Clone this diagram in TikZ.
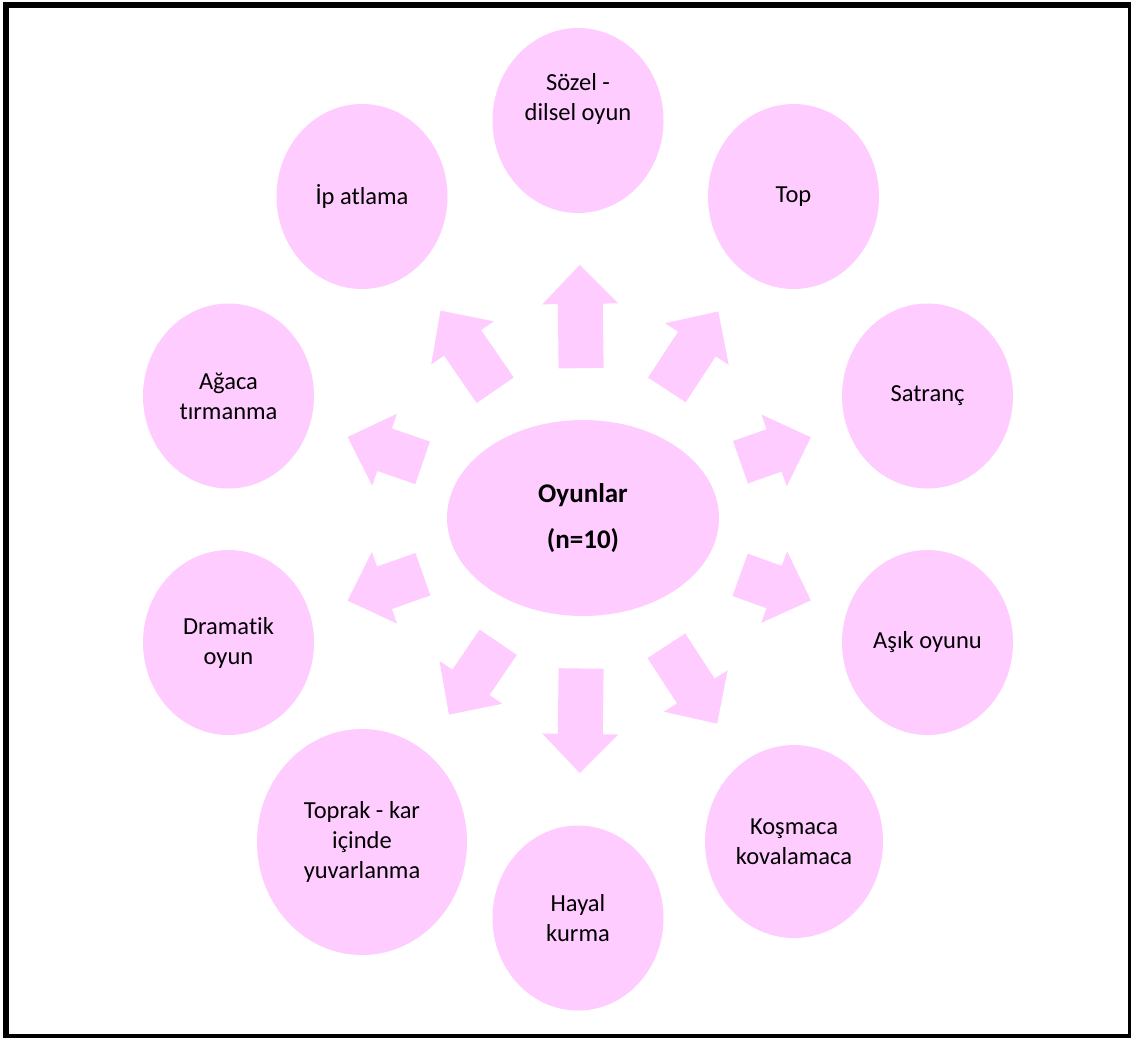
\documentclass[tikz,border=0pt]{standalone}
\usepackage{fontspec}
\setmainfont{Carlito}[Ligatures=NoCommon]
\usetikzlibrary{shapes.geometric,calc}
\definecolor{petal}{RGB}{255,204,255}

% block arrow from the hub towards a satellite: it covers the middle half
% of the gap between the two ellipse borders
\newcommand\radialarrow[1]{%
  \path (hub) -- coordinate[pos=0.25] (#1-a) coordinate[pos=0.75] (#1-b) (#1);
  \coordinate (#1-h) at ($(#1-b)!39pt!(#1-a)$);
  \fill[blockarrow]
    ($(#1-a)!22.5pt!90:(#1-b)$) -- ($(#1-h)!22.5pt!90:(#1-b)$) --
    ($(#1-h)!38pt!90:(#1-b)$) -- (#1-b) -- ($(#1-h)!38pt!-90:(#1-b)$) --
    ($(#1-h)!22.5pt!-90:(#1-b)$) -- ($(#1-a)!22.5pt!-90:(#1-b)$) -- cycle;
}

\begin{document}
\begin{tikzpicture}[x=1pt,y=-1pt,
  sat/.style={ellipse, fill=petal, inner sep=0pt, minimum width=171pt,
    minimum height=185pt, align=center, text=black,
    font=\fontsize{24.5}{30}\selectfont},
  txt/.style={align=center, text=black, font=\fontsize{24.5}{30}\selectfont},
  hubstyle/.style={ellipse, fill=petal, inner sep=0pt, minimum width=272pt,
    minimum height=196pt, align=center, text=black,
    font=\fontsize{27}{46}\selectfont\bfseries},
  blockarrow/.style={fill=petal}]
\useasboundingbox (0,0) rectangle (1131,1037);
\clip (0,0) rectangle (1131,1037);
\fill[white] (0,0) rectangle (1131,1037);
\draw[line width=6pt] (6,5) rectangle (1131,1037);

% central ellipse
\node[hubstyle] (hub) at (583,518) {Oyunlar\\(n=10)};

% satellites, clockwise from the top
\node[sat, label={[txt, yshift=21.5pt]center:Sözel -\\dilsel oyun}] (verbal) at (578,120.5) {};
\node[sat] (ball)    at (793.5,196.5) {Top};
\node[sat] (chess)   at (927.5,396)   {Satranç};
\node[sat] (knuckle) at (927.5,642.5) {Aşık oyunu};
\node[sat, minimum width=178pt, minimum height=193pt] (chase) at (794,841.5) {Koşmaca\\kovalamaca};
\node[sat] (dream)   at (578,918)     {Hayal\\kurma};
\node[sat, minimum width=210pt, minimum height=226pt] (roll) at (362,842) {Toprak - kar\\içinde\\yuvarlanma};
\node[sat] (drama)   at (228.5,642.5) {Dramatik\\oyun};
\node[sat] (tree)    at (228.5,396)   {Ağaca\\tırmanma};
\node[sat] (rope)    at (362,196.5)   {İp atlama};

% arrows from the hub to every satellite
\foreach \s in {verbal,ball,chess,knuckle,chase,dream,roll,drama,tree,rope}
  {\radialarrow{\s}}
\end{tikzpicture}
\end{document}
